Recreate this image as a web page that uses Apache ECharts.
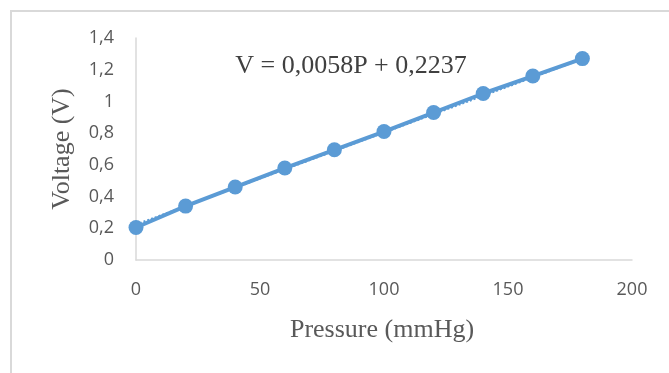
<!DOCTYPE html>
<html>
<head>
<meta charset="utf-8">
<script src="https://cdn.jsdelivr.net/npm/echarts@6/dist/echarts.min.js"></script>
<style>
  html, body { margin: 0; padding: 0; background: #fff; }
  #chart { width: 669px; height: 373px; }
</style>
</head>
<body>
<div id="chart"></div>
<script>
// measured points
const pressure = [0, 20, 40, 60, 80, 100, 120, 140, 160, 180];
const voltage = [0.205, 0.34, 0.46, 0.58, 0.695, 0.81, 0.93, 1.05, 1.16, 1.27];
// linear trendline end points (from the shown equation)
const trendX = [0, 180];
const trendY = [0.2237, 1.2677];
const equation = "V = 0,0058P + 0,2237";

const blue = "#5b9bd5";
const chart = echarts.init(document.getElementById("chart"));

chart.setOption({
  animation: false,
  grid: { left: 136, right: 37, top: 38, bottom: 113 },
  xAxis: {
    type: "value",
    min: 0, max: 200, interval: 50,
    axisLine: { lineStyle: { color: "#d9d9d9", width: 1.5 } },
    axisTick: { show: false },
    splitLine: { show: false },
    axisLabel: { color: "#595959", fontFamily: "Open Sans", fontSize: 18, margin: 21 }
  },
  yAxis: {
    type: "value",
    min: 0, max: 1.4, interval: 0.2,
    axisLine: { show: true, lineStyle: { color: "#d9d9d9", width: 1.5 } },
    axisTick: { show: false },
    splitLine: { show: false },
    axisLabel: {
      color: "#595959", fontFamily: "Open Sans", fontSize: 18, margin: 22,
      formatter: v => String(Math.round(v * 10) / 10).replace(".", ",")
    }
  },
  graphic: [
    { type: "rect", shape: { x: 11, y: 11, width: 700, height: 400 },
      style: { fill: "none", stroke: "#d9d9d9", lineWidth: 2 }, silent: true },
    { type: "text", x: 382, y: 330,
      style: { text: "Pressure (mmHg)", font: "26px 'Liberation Serif'", fill: "#595959",
               textAlign: "center", textVerticalAlign: "middle" } },
    { type: "text", x: 62, y: 149, rotation: Math.PI / 2,
      style: { text: "Voltage (V)", font: "26px 'Liberation Serif'", fill: "#595959",
               textAlign: "center", textVerticalAlign: "middle" } },
    { type: "text", x: 351, y: 66,
      style: { text: equation, font: "26px 'Liberation Serif'", fill: "#404040",
               textAlign: "center", textVerticalAlign: "middle" } }
  ],
  series: [
    {
      type: "line",
      data: trendX.map((x, i) => [x, trendY[i]]),
      symbol: "none",
      lineStyle: { color: blue, width: 2, type: "dotted" },
      z: 1
    },
    {
      type: "line",
      data: pressure.map((p, i) => [p, voltage[i]]),
      symbol: "circle",
      symbolSize: 15,
      lineStyle: { color: blue, width: 4 },
      itemStyle: { color: blue },
      z: 2
    }
  ]
});
</script>
</body>
</html>
